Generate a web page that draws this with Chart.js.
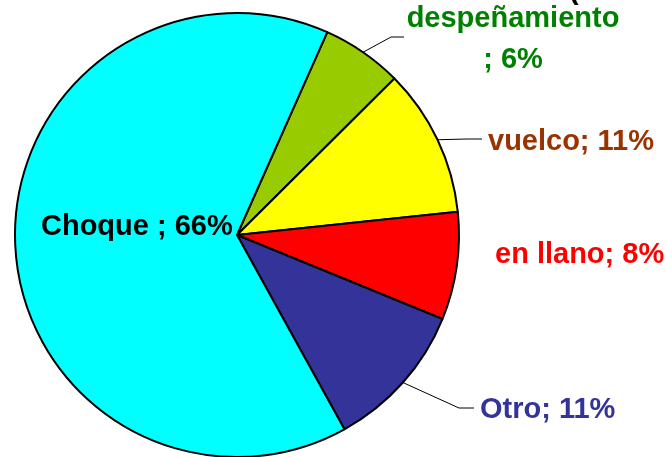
<!DOCTYPE html>
<html>
<head>
<meta charset="utf-8">
<script src="https://cdn.jsdelivr.net/npm/chart.js@4"></script>
<style>
    html, body { margin: 0; padding: 0; background: #fff; }
    #wrap { width: 666px; height: 457px; overflow: hidden; position: relative; }
    canvas { display: block; }
</style>
</head>
<body>
<div id="wrap">
    <canvas id="pieChart" width="666" height="480"></canvas>
</div>
<script>
// Accident types, drawn clockwise starting just right of the top
const categories = ["despeñamiento", "vuelco", "en llano", "Otro", "Choque"];
const percents = [6, 11, 8, 11, 66];
const sliceColors = ["#99cc00", "#ffff00", "#ff0000", "#333399", "#00ffff"];
const labelColors = ["#008000", "#993300", "#ff0000", "#333399", "#000000"];

// label text lines and where each one sits; leader = elbow point of the pointer line
const labelSpots = [
    { lines: ["despeñamiento", "; " + percents[0] + "%"], x: 513, y: [27, 68], align: "center", leader: [391, 37, 404] },
    { lines: [categories[1] + "; " + percents[1] + "%"], x: 488, y: [150], align: "left", leader: [467, 139, 482] },
    { lines: [categories[2] + "; " + percents[2] + "%"], x: 495, y: [263], align: "left", leader: null },
    { lines: [categories[3] + "; " + percents[3] + "%"], x: 480, y: [418], align: "left", leader: [459, 408, 474] },
    { lines: [categories[4] + " ; " + percents[4] + "%"], x: 41, y: [235], align: "left", leader: null }
];

const sliceLabels = {
    id: "sliceLabels",
    afterDraw(chart) {
        const ctx = chart.ctx;
        const arcs = chart.getDatasetMeta(0).data;
        ctx.save();

        // leader lines from the rim of each slice
        ctx.strokeStyle = "#000";
        ctx.lineWidth = 1;
        labelSpots.forEach((spot, i) => {
            if (!spot.leader) return;
            const arc = arcs[i];
            const mid = (arc.startAngle + arc.endAngle) / 2;
            const sx = arc.x + Math.cos(mid) * arc.outerRadius;
            const sy = arc.y + Math.sin(mid) * arc.outerRadius;
            ctx.beginPath();
            ctx.moveTo(sx, sy);
            ctx.lineTo(spot.leader[0], spot.leader[1]);
            ctx.lineTo(spot.leader[2], spot.leader[1]);
            ctx.stroke();
        });

        ctx.font = "bold 29px 'Liberation Sans', Arial, sans-serif";
        ctx.textBaseline = "alphabetic";
        labelSpots.forEach((spot, i) => {
            ctx.fillStyle = labelColors[i];
            ctx.textAlign = spot.align;
            spot.lines.forEach((line, k) => {
                ctx.fillText(line, spot.x, spot.y[k]);
            });
        });

        // tail of the heading line, cut off by the top edge
        ctx.fillStyle = "#000";
        ctx.textAlign = "left";
        ctx.fillText("(", 569, -1);
        ctx.restore();
    }
};

const ctx = document.getElementById("pieChart").getContext("2d");

new Chart(ctx, {
    type: "pie",
    data: {
        labels: categories,
        datasets: [{
            data: percents,
            backgroundColor: sliceColors,
            borderColor: "#000000",
            borderWidth: 2
        }]
    },
    options: {
        responsive: false,
        animation: false,
        rotation: 24,
        layout: {
            padding: { left: 14, top: 12, right: 206, bottom: 22 }
        },
        plugins: {
            legend: { display: false },
            tooltip: { enabled: false }
        }
    },
    plugins: [sliceLabels]
});
</script>
</body>
</html>
